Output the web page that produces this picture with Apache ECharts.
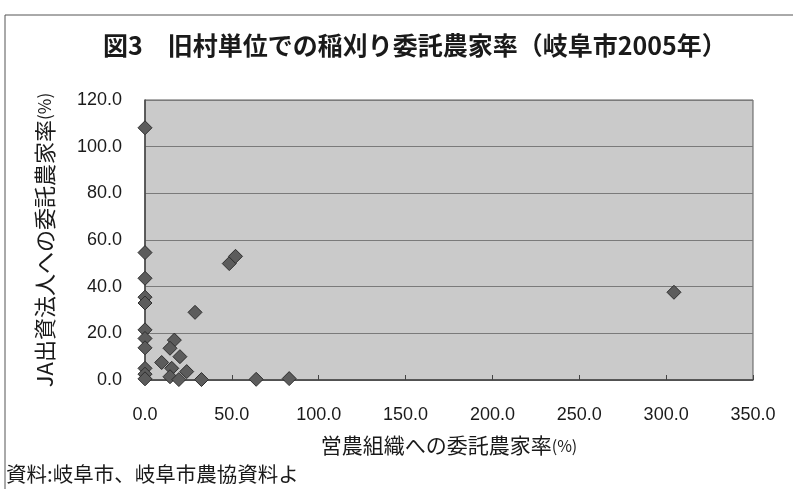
<!DOCTYPE html>
<html>
<head>
<meta charset="utf-8">
<script src="https://cdn.jsdelivr.net/npm/echarts@6/dist/echarts.min.js"></script>
<style>
  html, body { margin: 0; padding: 0; background: #ffffff; }
  #chart { width: 793px; height: 489px; }
</style>
</head>
<body>
<div id="chart"></div>
<script>
// 営農組織への委託農家率 (x) と JA出資法人への委託農家率 (y), 旧村単位
const farmOrgRate = [
  0, 0, 0, 0, 0, 0, 0, 0, 0, 0, 0,
  16.9, 14.4, 20.1, 9.6, 15.4, 24.0, 14.4, 19.5, 32.5, 64.0, 83.0,
  28.8, 48.5, 52.1, 304.5
];
const jaCorpRate = [
  108.1, 54.6, 43.6, 35.5, 33.0, 21.5, 17.8, 13.8, 5.0, 2.5, 0.5,
  17.1, 13.6, 10.0, 7.5, 5.0, 3.6, 1.4, 0.2, 0.2, 0.3, 0.6,
  29.0, 49.9, 53.0, 37.6
];
const xTicks = { min: 0, max: 350, interval: 50 };
const yTicks = { min: 0, max: 120, interval: 20 };

const titleText = '図3　旧村単位での稲刈り委託農家率（岐阜市2005年）';
const xName = '営農組織への委託農家率{s|(%)}';
const yName = 'JA出資法人への委託農家率{s|(%)}';
const sourceText = '資料:岐阜市、岐阜市農協資料よ';

const cjk = '"Noto Sans CJK JP", sans-serif';
const latin = '"Liberation Sans", Arial, sans-serif';

const points = farmOrgRate.map((x, i) => [x, jaCorpRate[i]]);

const chart = echarts.init(document.getElementById('chart'), null, { renderer: 'canvas' });
chart.setOption({
  animation: false,
  backgroundColor: '#ffffff',
  title: {
    text: titleText,
    left: 98,
    top: 28,
    textStyle: { fontFamily: cjk, fontWeight: 'bold', fontSize: 25, color: '#1a1a1a' }
  },
  graphic: [
    {
      type: 'polyline',
      shape: { points: [[5, 489], [5, 15], [793, 15]] },
      style: { stroke: '#555555', lineWidth: 1, fill: null },
      silent: true
    },
    {
      type: 'text',
      left: 6,
      top: 464,
      style: { text: sourceText, font: '20.5px "Noto Sans CJK JP", sans-serif', fill: '#1a1a1a' }
    }
  ],
  grid: {
    left: 145, right: 40, top: 100, bottom: 109,
    show: true,
    backgroundColor: '#cacaca',
    borderColor: '#5a5a5a',
    borderWidth: 1
  },
  xAxis: {
    type: 'value',
    min: xTicks.min, max: xTicks.max, interval: xTicks.interval,
    name: xName,
    nameLocation: 'middle',
    nameGap: 55,
    nameTextStyle: {
      fontFamily: cjk, fontSize: 21, color: '#1a1a1a',
      rich: { s: { fontFamily: cjk, fontSize: 16, color: '#1a1a1a' } }
    },
    axisLine: { show: true, lineStyle: { color: '#444444', width: 1.5 } },
    axisTick: { show: true, inside: true, length: 5, lineStyle: { color: '#444444' } },
    axisLabel: {
      margin: 26, fontFamily: latin, fontSize: 18, color: '#1a1a1a',
      formatter: v => v.toFixed(1)
    },
    splitLine: { show: false }
  },
  yAxis: {
    type: 'value',
    min: yTicks.min, max: yTicks.max, interval: yTicks.interval,
    name: yName,
    nameLocation: 'middle',
    nameGap: 89,
    nameTextStyle: {
      fontFamily: cjk, fontSize: 22, color: '#1a1a1a',
      rich: { s: { fontFamily: cjk, fontSize: 17, color: '#1a1a1a' } }
    },
    axisLine: { show: true, lineStyle: { color: '#444444', width: 1.5 } },
    axisTick: { show: false },
    axisLabel: {
      margin: 23, fontFamily: latin, fontSize: 18, color: '#1a1a1a',
      formatter: v => v.toFixed(1)
    },
    splitLine: { show: true, lineStyle: { color: '#7a7a7a', width: 1 } }
  },
  series: [{
    type: 'scatter',
    data: points,
    symbol: 'diamond',
    symbolSize: 14,
    itemStyle: { color: '#5c5c5c', borderColor: '#2e2e2e', borderWidth: 1, opacity: 1 },
    clip: false
  }]
});
</script>
</body>
</html>
